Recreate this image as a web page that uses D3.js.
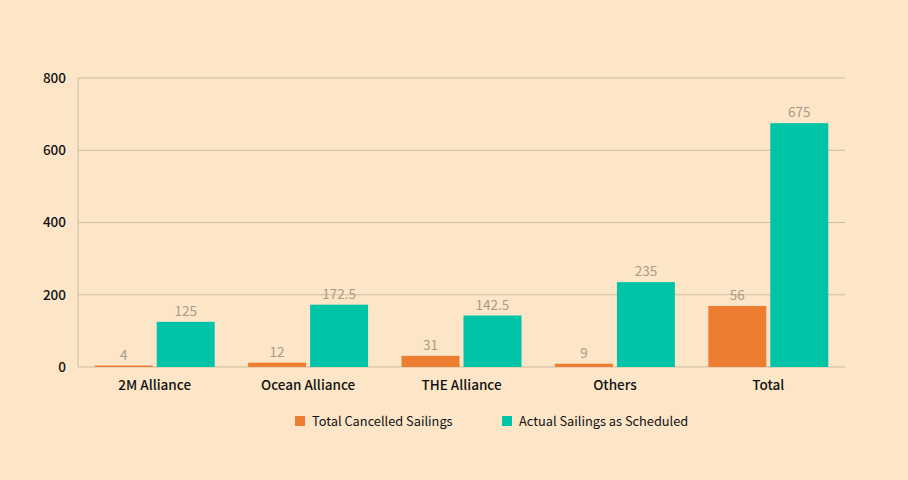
<!DOCTYPE html>
<html><head><meta charset="utf-8">
<script src="https://cdn.jsdelivr.net/npm/d3@7"></script>
<style>
html,body{margin:0;padding:0;background:#FDE6C8;}
svg{display:block;font-family:"Noto Sans CJK KR","Noto Sans",sans-serif;}
</style></head><body>
<svg id="c" width="908" height="480"></svg>
<script>
const categories = ["2M Alliance","Ocean Alliance","THE Alliance","Others","Total"];
const cancelledValues = [4,12,31,9,169];
const cancelledLabels = ["4","12","31","9","56"];
const scheduledValues = [125,172.5,142.5,235,675];
const scheduledLabels = ["125","172.5","142.5","235","675"];
const seriesNames = ["Total Cancelled Sailings","Actual Sailings as Scheduled"];
const yTicks = [0,200,400,600,800];

const FONT = '"Noto Sans CJK KR","Noto Sans",sans-serif';
const colors = ["#ED7D31","#00C4A7"];
const svg = d3.select("#c");
const pL=78,pR=845,pT=78,pB=367;
const x = d3.scaleBand().domain(categories).range([pL,pR]).padding(0);
const y = d3.scaleLinear().domain([0,800]).range([pB,pT]);
const step = x.bandwidth();
const bw = step*0.378, gap = step*0.026;
const inner = d3.scaleOrdinal().domain([0,1]).range([step/2-gap/2-bw, step/2+gap/2]);

svg.append("g").selectAll("line").data(yTicks).join("line")
  .attr("x1",pL).attr("x2",pR).attr("y1",d=>y(d)).attr("y2",d=>y(d))
  .attr("stroke","#CDBBA3").attr("stroke-width",1);
svg.append("line").attr("x1",pL).attr("x2",pL).attr("y1",pT).attr("y2",pB)
  .attr("stroke","#CDBBA3");

const yAxis = d3.axisLeft(y).tickValues(yTicks).tickSize(0).tickPadding(12);
const ga = svg.append("g").attr("transform",`translate(${pL},0)`).call(yAxis)
  .attr("font-family",FONT).attr("font-size",13.5);
ga.select(".domain").remove();
ga.selectAll("text").attr("fill","#111").attr("font-weight",500);

const xAxis = d3.axisBottom(x).tickSize(0).tickPadding(13);
const gx = svg.append("g").attr("transform",`translate(0,${pB})`).call(xAxis)
  .attr("font-family",FONT).attr("font-size",13.5);
gx.select(".domain").remove();
gx.selectAll("text").attr("fill","#111").attr("font-weight",500);

const series = [
  {vals:cancelledValues, labels:cancelledLabels},
  {vals:scheduledValues, labels:scheduledLabels}
];
series.forEach((s,i)=>{
  const g = svg.append("g");
  g.selectAll("rect").data(categories).join("rect")
    .attr("x",(c)=>x(c)+inner(i)).attr("width",bw)
    .attr("y",(c,j)=>y(s.vals[j])).attr("height",(c,j)=>pB-y(s.vals[j]))
    .attr("fill",colors[i]);
  g.selectAll("text").data(categories).join("text")
    .attr("x",(c)=>x(c)+inner(i)+bw/2).attr("y",(c,j)=>y(s.vals[j])-6)
    .attr("text-anchor","middle").attr("font-size",13.5).attr("fill","#A89A88")
    .text((c,j)=>s.labels[j]);
});

const legendX = [295,502];
const lg = svg.append("g");
seriesNames.forEach((n,i)=>{
  lg.append("rect").attr("x",legendX[i]).attr("y",416).attr("width",10).attr("height",10).attr("fill",colors[i]);
  lg.append("text").attr("x",legendX[i]+17).attr("y",425.5).attr("font-size",12.8).attr("fill","#111").text(n);
});
</script>
</body></html>
